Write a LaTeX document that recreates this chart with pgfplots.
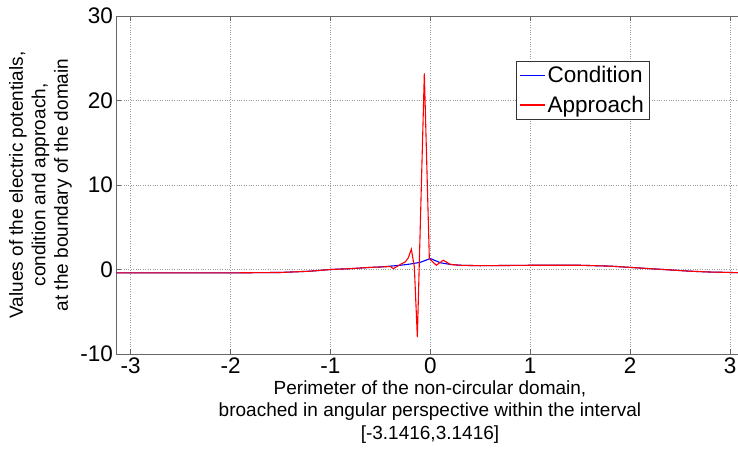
\documentclass[border=0pt]{standalone}
\usepackage{fontspec}
\setmainfont{Liberation Sans}
\usepackage{pgfplots}
\pgfplotsset{compat=1.18}

% shared smooth part of both curves
\pgfplotstableread{
x y
-3.1416 -0.40
-2.5 -0.40
-2.0 -0.40
-1.5 -0.35
-1.2 -0.20
-1.0 0.00
-0.8 0.10
-0.6 0.25
-0.5 0.30
-0.4 0.40
-0.3 0.50
-0.2 0.65
-0.1 0.85
0.0 1.30
0.1 0.80
0.2 0.60
0.3 0.50
0.5 0.45
1.0 0.50
1.5 0.50
1.8 0.40
2.0 0.25
2.2 0.10
2.4 -0.05
2.6 -0.20
2.8 -0.30
3.0 -0.35
3.1416 -0.40
}\condition

\pgfplotstableread{
x y
-3.1416 -0.40
-2.5 -0.40
-2.0 -0.40
-1.5 -0.35
-1.2 -0.20
-1.0 0.00
-0.8 0.10
-0.6 0.25
-0.5 0.30
-0.4 0.35
-0.37 0.10
-0.3 0.60
-0.25 0.90
-0.22 1.40
-0.19 2.40
-0.16 0.30
-0.13 -8.00
-0.06 23.20
-0.01 1.30
0.06 0.50
0.13 1.10
0.2 0.60
0.3 0.50
0.5 0.45
1.0 0.50
1.5 0.50
1.8 0.40
2.0 0.25
2.2 0.10
2.4 -0.05
2.6 -0.20
2.8 -0.30
3.0 -0.35
3.1416 -0.40
}\approach

\begin{document}
\begin{tikzpicture}
\begin{axis}[
  scale only axis,
  width=621.5pt, height=338pt,
  xmin=-3.1416, xmax=3.08,
  ymin=-10, ymax=30,
  xtick={-3,-2,-1,0,1,2,3},
  ytick={-10,0,10,20,30},
  axis x line*=box,
  axis y line*=left,
  axis line style={black!60, line width=1pt},
  tick style={black!60, line width=0.8pt},
  tick align=inside,
  major tick length=5pt,
  grid=major,
  grid style={dotted, black!40, line width=0.6pt},
  ticklabel style={font=\fontsize{22.5}{26}\selectfont},
  /pgf/number format/assume math mode=true,
  xlabel={Perimeter of the non-circular domain,\\broached in angular perspective within the interval\\{[-3.1416,3.1416]}},
  ylabel={Values of the electric potentials,\\condition and approach,\\at the boundary of the domain},
  label style={font=\fontsize{19}{22.5}\selectfont, align=center},
  xlabel style={at={(rel axis cs:0.5044,0)}, anchor=center, yshift=-58pt},
  ylabel style={at={(rel axis cs:-0.1223,0.5)}, anchor=center},
  legend style={at={(rel axis cs:0.643,0.867)}, anchor=north west,
    draw=black!80, line width=0.6pt, fill=white,
    font=\fontsize{22.5}{26}\selectfont,
    row sep=8pt, inner sep=3pt},
  legend cell align=left,
  legend image code/.code={\draw[#1, line width=1.1pt] (0pt,0pt) -- (25pt,0pt);},
]
\coordinate (bl) at (rel axis cs:0,0);
\addplot[blue, line width=1.1pt] table {\condition};
\addplot[red, line width=1.1pt] table {\approach};
\legend{Condition, Approach}
\end{axis}
\pgfresetboundingbox
\useasboundingbox (bl) ++(-116.5pt,-99pt) rectangle ++(738pt,453pt);
\end{tikzpicture}
\end{document}
